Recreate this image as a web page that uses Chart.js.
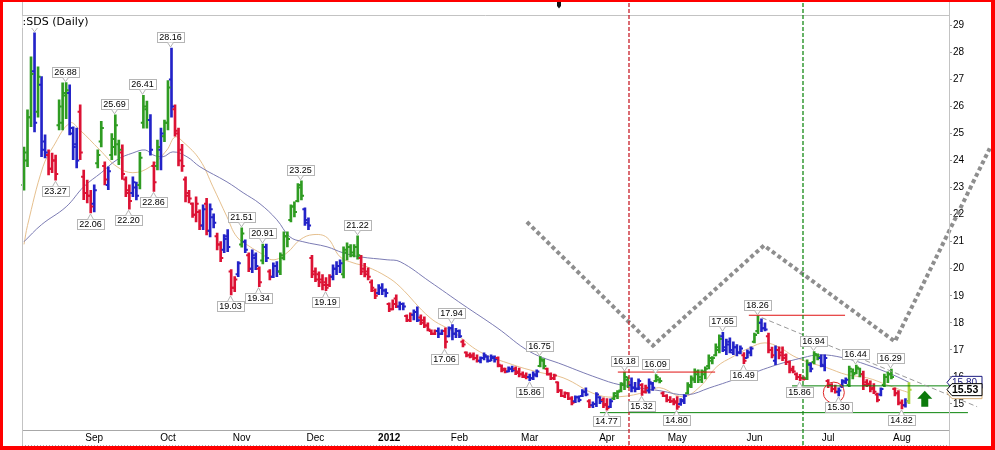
<!DOCTYPE html>
<html><head><meta charset="utf-8">
<script src="https://cdn.jsdelivr.net/npm/chart.js@4.4.1/dist/chart.umd.min.js"></script>
<style>html,body{margin:0;padding:0;background:#fff;}#wrap{position:relative;width:995px;height:450px;}canvas{display:block;}</style>
</head><body><div id="wrap"><canvas id="c" width="995" height="450" style="width:995px;height:450px"></canvas></div>
<script>
// ---- daily bars (index 0 = first trading day shown) ----
const high = [
24.50,25.87,27.83,28.72,27.46,27.10,24.95,24.40,24.28,24.20,
26.24,26.87,26.88,26.80,25.25,25.20,26.06,23.65,23.28,22.90,
23.10,24.40,25.45,23.95,23.77,25.00,25.69,24.76,24.58,23.40,
23.10,23.40,23.20,24.30,26.41,26.20,25.70,23.95,24.76,25.20,
25.50,26.96,28.16,26.06,25.20,24.60,23.40,22.90,22.44,22.66,
22.18,22.36,22.60,22.40,22.03,21.32,21.00,21.26,21.45,19.97,
19.71,20.26,21.51,21.07,20.59,20.70,20.59,20.07,20.91,20.91,
19.97,20.22,20.26,20.59,21.36,21.36,22.36,22.47,23.15,23.25,
22.25,21.88,20.50,20.03,19.89,19.78,19.67,19.78,20.14,20.26,
20.33,20.81,20.96,20.89,20.89,21.22,20.50,20.20,20.03,19.59,
19.26,19.41,19.45,19.26,18.74,18.85,19.04,18.78,18.74,18.30,
18.37,18.48,18.59,18.30,18.22,18.00,17.74,17.74,17.82,17.74,
17.82,17.85,17.94,17.80,17.74,17.37,16.93,16.89,16.89,16.82,
16.74,16.89,16.78,16.82,16.78,16.74,16.45,16.33,16.37,16.40,
16.37,16.33,16.19,16.15,16.11,16.19,16.26,16.75,16.67,16.33,
16.15,16.11,15.82,15.53,15.45,15.42,15.27,15.30,15.30,15.53,
15.60,15.16,15.08,15.42,15.27,15.23,15.20,15.19,15.42,15.50,
15.79,16.18,16.00,15.97,15.80,15.93,15.75,15.70,15.93,15.80,
16.09,15.97,15.45,15.35,15.27,15.20,15.27,15.20,15.35,15.79,
16.04,16.30,16.26,16.26,16.37,16.82,16.75,17.22,17.56,17.65,
17.40,17.45,17.30,17.20,17.15,16.90,17.00,17.11,17.62,18.26,
18.15,18.00,17.62,17.10,17.15,17.11,17.11,16.85,16.60,16.40,
16.15,16.10,16.00,16.63,16.53,16.94,16.85,16.82,16.82,15.90,
15.75,15.70,15.60,15.90,15.97,16.40,16.30,16.44,16.33,16.22,
15.90,15.86,15.75,15.40,15.60,16.11,16.19,16.29,15.60,15.50,
15.15,15.20,15.79];
const low = [
22.90,23.77,25.25,25.06,25.60,24.14,24.10,23.47,23.55,23.27,
25.13,25.13,25.55,24.95,24.03,23.73,24.03,22.55,22.43,22.06,
22.10,23.73,24.50,23.10,22.92,24.03,24.20,23.85,23.30,22.66,
22.20,22.66,22.54,22.95,25.20,25.20,24.20,22.86,23.65,23.65,
24.70,25.13,25.60,24.90,23.80,23.60,22.47,22.43,21.90,21.73,
21.44,21.44,21.25,21.18,21.51,20.70,20.26,20.59,20.63,19.03,
19.15,19.71,20.80,20.59,19.89,19.85,19.97,19.34,20.18,20.26,
19.59,19.67,19.71,19.78,20.33,20.81,21.73,21.92,22.47,22.54,
21.60,21.44,19.67,19.52,19.34,19.22,19.19,19.34,19.59,19.78,
19.85,19.66,20.33,20.44,20.44,20.35,19.78,19.70,19.59,19.15,
18.89,19.04,19.04,18.96,18.41,18.48,18.56,18.48,18.48,18.04,
18.04,18.11,18.04,17.93,17.82,17.70,17.56,17.56,17.45,17.56,
17.06,17.48,17.37,17.45,17.45,17.11,16.74,16.70,16.63,16.55,
16.52,16.63,16.55,16.59,16.55,16.37,16.19,16.15,16.19,16.19,
16.08,16.00,15.97,15.93,15.86,15.90,16.00,16.37,16.30,16.07,
15.90,15.90,15.42,15.27,15.23,15.16,14.97,15.05,15.08,15.27,
15.30,14.86,14.86,14.90,15.01,14.86,14.77,14.86,15.16,15.20,
15.45,15.53,15.60,15.45,15.45,15.53,15.32,15.40,15.40,15.50,
15.82,15.78,15.27,15.08,15.05,14.97,14.80,14.95,15.01,15.38,
15.60,15.79,15.79,15.79,15.93,16.30,16.48,16.78,16.89,16.93,
16.82,16.89,16.82,16.78,16.85,16.49,16.70,16.78,17.26,17.60,
17.67,17.70,16.89,16.70,16.45,16.67,16.60,16.45,16.15,16.15,
15.90,15.86,15.88,15.90,16.19,16.48,16.63,16.37,16.22,15.60,
15.45,15.40,15.30,15.60,15.75,15.64,15.93,16.11,16.00,15.53,
15.64,15.45,15.38,15.08,15.30,15.64,15.79,15.93,15.30,14.97,
14.82,14.88,15.01];
const open = [
23.10,24.00,25.60,27.30,25.80,26.80,24.70,24.20,23.70,24.00,
25.30,25.40,26.40,26.50,25.00,24.60,25.80,23.40,22.80,22.70,
22.40,23.90,24.70,23.80,23.10,24.20,24.50,24.60,24.30,23.30,
22.90,22.80,23.00,23.10,25.40,25.90,25.50,23.80,23.80,24.40,
24.90,25.40,27.00,25.90,25.00,24.40,23.30,22.80,22.40,22.00,
22.10,21.60,22.40,21.40,21.90,21.20,20.90,20.70,21.20,19.90,
19.30,19.80,20.90,21.00,20.50,20.00,20.40,20.00,20.30,20.80,
19.90,19.70,20.10,19.90,20.40,21.20,21.80,22.30,22.50,23.10,
22.20,21.70,20.40,19.90,19.80,19.60,19.50,19.40,19.70,20.00,
20.10,19.80,20.60,20.80,20.50,20.80,20.40,20.00,19.90,19.50,
19.20,19.10,19.30,19.20,18.70,18.50,18.90,18.60,18.70,18.25,
18.10,18.30,18.40,18.20,18.10,17.90,17.70,17.60,17.70,17.60,
17.70,17.50,17.80,17.60,17.70,17.30,16.90,16.80,16.80,16.70,
16.60,16.70,16.75,16.60,16.70,16.70,16.40,16.30,16.20,16.30,
16.30,16.20,16.10,16.05,16.00,15.95,16.05,16.40,16.60,16.30,
16.10,15.95,15.80,15.50,15.30,15.40,15.20,15.10,15.25,15.30,
15.45,15.10,14.95,15.00,15.25,15.15,15.00,14.90,15.20,15.30,
15.50,15.70,15.90,15.70,15.60,15.55,15.70,15.45,15.50,15.75,
15.85,15.90,15.40,15.30,15.15,15.10,15.10,15.00,15.10,15.40,
15.65,15.90,16.10,15.90,16.10,16.40,16.60,16.80,17.00,17.50,
17.00,17.30,16.90,17.10,16.90,16.80,16.70,16.90,17.30,17.70,
18.00,17.80,17.50,17.00,16.60,17.00,16.90,16.80,16.55,16.30,
16.10,16.00,15.95,15.95,16.45,16.55,16.80,16.70,16.40,15.85,
15.70,15.55,15.45,15.65,15.80,15.70,16.20,16.15,16.30,16.10,
15.80,15.75,15.60,15.35,15.35,15.70,16.00,16.10,15.55,15.40,
15.05,14.95,15.10];
const close = [
24.30,25.60,27.20,25.40,27.10,24.40,24.30,23.70,24.00,23.50,
26.00,26.50,26.60,25.20,24.50,24.00,24.30,22.80,22.70,22.30,
22.90,24.20,25.20,23.30,23.60,24.80,25.30,24.40,23.50,22.80,
22.50,23.20,22.70,24.10,26.00,25.50,24.40,23.20,24.50,25.00,
25.40,26.70,26.00,25.10,24.00,23.80,22.70,22.60,22.00,22.40,
21.60,22.20,21.40,22.20,21.70,20.90,20.40,21.10,20.80,19.30,
19.60,20.20,21.30,20.70,20.00,20.50,20.10,19.50,20.80,20.40,
19.70,20.10,19.90,20.50,21.20,21.10,22.30,22.10,23.00,22.70,
21.80,21.60,19.80,19.60,19.50,19.40,19.30,19.70,20.00,20.10,
20.20,20.70,20.80,20.60,20.80,20.50,19.90,19.80,19.70,19.30,
19.00,19.30,19.20,19.10,18.50,18.70,18.60,18.70,18.60,18.10,
18.30,18.40,18.10,18.00,17.90,17.75,17.60,17.70,17.60,17.70,
17.30,17.80,17.60,17.70,17.50,17.20,16.80,16.75,16.70,16.60,
16.70,16.80,16.60,16.75,16.65,16.45,16.25,16.20,16.30,16.25,
16.15,16.10,16.00,16.00,15.95,16.10,16.20,16.65,16.40,16.10,
15.95,16.05,15.50,15.30,15.40,15.20,15.05,15.25,15.15,15.45,
15.35,14.95,15.00,15.35,15.10,14.95,14.85,15.10,15.40,15.45,
15.75,16.00,15.70,15.60,15.55,15.85,15.45,15.60,15.80,15.60,
16.00,15.85,15.30,15.15,15.10,15.05,14.90,15.15,15.30,15.70,
15.95,16.20,16.00,16.20,16.30,16.70,16.70,17.10,17.40,17.10,
17.20,17.00,17.10,16.90,17.05,16.60,16.90,17.05,17.55,18.00,
17.80,17.75,17.00,16.80,17.00,16.80,16.70,16.55,16.25,16.20,
16.00,15.95,15.92,16.50,16.30,16.85,16.75,16.45,16.70,15.70,
15.55,15.45,15.50,15.85,15.90,16.30,16.10,16.35,16.10,15.70,
15.70,15.55,15.45,15.15,15.55,16.00,16.10,16.00,15.40,15.05,
14.95,15.10,15.53];
// bar colour codes: g = green, b = blue, r = red, y = latest bar
const barColor = ('gggbgbbrrr'+'gggbbbrrrr'+'bggrbgggrr'+'rbbgggbrgb'+'ggbrrrrrrr'+
  'rbrbbrrbbr'+'rbgbrbbrgb'+'rbbggggggg'+'bbrrrrrrbb'+'bgggggrrrr'+
  'rbbbrrrbbr'+'rbbrrrrrbb'+'rbbbbrrrrr'+'bbbbbrrrbb'+'rrrrbbbggr'+
  'rrrrrrrbbb'+'brbbbrrbgg'+'gggbbbrrbb'+'ggrrrrrbbg'+'gggggggggb'+
  'bbbbbrbbgg'+'bbrrbrrrrr'+'rrrgbggbbr'+'rrbbbggggr'+'rrrrbgggrr'+'rby').split('');

// ---- axis ticks ----
const monthLabels = ['Sep','Oct','Nov','Dec','2012','Feb','Mar','Apr','May','Jun','Jul','Aug'];
const monthIdx = [20,41,62,83,104,124,144,166,186,208,229,250];
const yTicks = [15,16,17,18,19,20,21,22,23,24,25,26,27,28,29];

// ---- moving averages ----
const slowIdx = [0,5,12,17,22,26.5,31,34.5,36.7,39.6,42.4,46.4,50.1,57.8,62.4,67.2,72,75.7,79.4,86.3,90.8,95.7,103.4,107.1,115.6,125,134.7,144.1,153.5,163.2,169.7,181.1,188.8,195.3,204.7,214.4,221.8,226.7,233.2,240,247.4,252];
const slowVal = [21.00,21.63,22.29,23.03,23.55,24.03,24.28,24.39,24.21,24.14,24.32,24.14,23.77,23.21,22.81,22.40,21.81,21.18,21.00,20.81,20.59,20.44,20.33,20.26,19.52,18.67,17.82,16.93,16.45,15.97,15.71,15.49,15.34,15.60,16.01,16.45,16.71,16.82,16.71,16.45,16.08,15.80];
const fastIdx = [0,1,5.4,8.3,13.1,15.9,21.6,26.5,31,35.9,40.7,43,45.3,50.1,53.8,57.8,60.6,64.4,67.2,70.9,74.9,78.6,82.3,86.3,90,93.7,97.7,103.4,107.1,115.6,122.2,129.8,139.2,146.1,153.5,163.2,169.7,177.4,181.1,187.6,192.5,197.3,201.9,206.7,211,215.3,219,223,228.6,234.3,240,245.7,249.4,252];
const fastVal = [20.90,21.60,23.77,24.51,25.39,25.13,24.39,23.77,23.55,23.77,24.39,24.87,24.69,24.02,23.03,21.92,21.18,20.81,20.59,20.33,20.59,21.07,21.26,21.15,20.44,20.22,20.07,19.70,19.33,18.19,17.67,16.93,16.45,16.19,15.97,15.34,15.27,15.45,15.60,15.27,15.64,16.38,16.75,17.08,17.26,17.08,16.78,16.56,16.34,16.08,15.97,15.71,15.53,15.42];

// ---- annotations ----
const peakIdx = [12,26,34,42,62,68,79,95,122,147,171,180,199,209,225,237,247];
const peakVal = [26.88,25.69,26.41,28.16,21.51,20.91,23.25,21.22,17.94,16.75,16.18,16.09,17.65,18.26,16.94,16.44,16.29];
const troughIdx = [9,19,30,37,59,67,86,120,144,166,176,186,205,221,232,250];
const troughVal = [23.27,22.06,22.20,22.86,19.03,19.34,19.19,17.06,15.86,14.77,15.32,14.80,16.49,15.86,15.30,14.82];
const zigIdx = [143.2,179.1,210.7,248.0,275.0];
const zigVal = [21.73,17.16,20.86,17.31,24.45];
const redFrom = [169.1,206.4], redTo = [196.8,233.8], redVal = [16.18,18.28];
const greenFrom = [164.0,218.7], greenTo = [268.8,268.8], greenVal = [14.68,15.67];
const trendIdx = [210.1,271.4], trendVal = [18.19,14.90];
const markerIdx = [172.3,221.8], markerColor = ['#c81e28','#168a16'];
const circleAt = [230.6,15.42];
const arrowAt = [256.5,15.49,14.90];
const topMarkIdx = 152.3;
const titleText = ':SDS (Daily)';

const palette = {g:'#2f9c22', b:'#2323c8', r:'#dc1234', y:'#a9d23a'};
const FONT = '"Liberation Sans", Arial, sans-serif';

function seg(a,b,v){return [{x:a,y:v},{x:b,y:v}];}
const lineBase = {type:'line', pointRadius:0, borderWidth:1, clip:false, tension:0, fill:false};
const datasets = [
  {type:'bar', data: high.map((h,i)=>({x:i,y:[low[i],h]})), backgroundColor: barColor.map(c=>palette[c]),
   barThickness:2, grouped:false, borderWidth:0, order:1},
  {...lineBase, data: slowIdx.map((v,k)=>({x:v,y:slowVal[k]})), borderColor:'#7c7cb4', tension:0.4, clip:0, order:3},
  {...lineBase, data: fastIdx.map((v,k)=>({x:v,y:fastVal[k]})), borderColor:'#e6c08e', tension:0.4, clip:0, order:3},
  {...lineBase, data: zigIdx.map((v,k)=>({x:v,y:zigVal[k]})), borderColor:'#8e8e8e', borderWidth:4, borderDash:[4,3], order:0},
  {...lineBase, data: trendIdx.map((v,k)=>({x:v,y:trendVal[k]})), borderColor:'#9a9a9a', borderDash:[5,3], order:0},
];
redFrom.forEach((a,k)=>datasets.push({...lineBase, data: seg(a,redTo[k],redVal[k]), borderColor:'#e01010', order:0}));
greenFrom.forEach((a,k)=>datasets.push({...lineBase, data: seg(a,greenTo[k],greenVal[k]), borderColor:'#0a840a', order:0}));

function drawLabel(g, px, py, text, up){
  g.font = '9px ' + FONT;
  const w = Math.round(g.measureText(text).width) + 4, h = 10, gap = 6;
  const bx = Math.round(px - w/2) + 0.5;
  const by = up ? Math.round(py - gap - h) + 0.5 : Math.round(py + gap) + 0.5;
  g.lineWidth = 1; g.strokeStyle = '#b5b5b5'; g.fillStyle = '#fff';
  g.fillRect(bx, by, w, h); g.strokeRect(bx, by, w, h);
  const edge = up ? by + h : by, tip = up ? py - 1 : py + 1;
  g.beginPath(); g.moveTo(px-3, edge); g.lineTo(px, tip); g.lineTo(px+3, edge); g.closePath();
  g.fill();
  g.beginPath(); g.moveTo(px-3, edge); g.lineTo(px, tip); g.lineTo(px+3, edge); g.stroke();
  g.fillStyle = '#000'; g.textAlign = 'center'; g.textBaseline = 'middle';
  g.fillText(text, px, by + h/2 + 0.5);
}
function drawTag(g, x0, cy, text, color, bold){
  g.beginPath();
  g.moveTo(x0, cy); g.lineTo(x0+5, cy-6); g.lineTo(x0+35, cy-6); g.lineTo(x0+35, cy+6); g.lineTo(x0+5, cy+6); g.closePath();
  g.fillStyle = '#fff'; g.fill(); g.lineWidth = 1; g.strokeStyle = color; g.stroke();
  g.font = (bold ? 'bold 10.5px ' : '10px ') + FONT; g.fillStyle = color; g.textAlign = 'left'; g.textBaseline = 'middle';
  g.fillText(text, x0+5, cy+0.5);
}

const deco = {
  id:'deco',
  beforeDraw(c){ const g=c.ctx; g.save(); g.fillStyle='#fff'; g.fillRect(0,0,c.width,c.height); g.restore(); },
  afterDatasetDraw(c, args){
    if (args.index !== 0) return;
    const g=c.ctx, X=c.scales.x, Y=c.scales.y;
    g.save(); g.lineWidth = 2;
    for (let i=0;i<high.length;i++){
      const px = X.getPixelForValue(i), yo = Y.getPixelForValue(open[i]), yc = Y.getPixelForValue(close[i]);
      g.strokeStyle = palette[barColor[i]];
      g.beginPath(); g.moveTo(px-2.6, yo); g.lineTo(px, yo); g.moveTo(px, yc); g.lineTo(px+2.6, yc); g.stroke();
    }
    g.restore();
  },
  afterDraw(c){
    const g=c.ctx, X=c.scales.x, Y=c.scales.y, a=c.chartArea;
    g.save();
    // frame lines
    g.strokeStyle='#c3c3c3'; g.lineWidth=1;
    g.beginPath();
    g.moveTo(Math.round(a.left)+0.5, 0); g.lineTo(Math.round(a.left)+0.5, 447);
    g.moveTo(Math.round(a.right)+0.5, 0); g.lineTo(Math.round(a.right)+0.5, 447);
    g.moveTo(a.left, Math.round(a.top)+0.5); g.lineTo(a.right, Math.round(a.top)+0.5);
    g.stroke();
    g.setLineDash([1,2]); g.strokeStyle='#aaaaaa';
    g.beginPath(); g.moveTo(a.left, 445.5); g.lineTo(a.right, 445.5); g.stroke();
    g.setLineDash([]);
    // vertical dashed markers
    markerIdx.forEach((m,k)=>{
      const px = Math.round(X.getPixelForValue(m));
      g.strokeStyle = markerColor[k]; g.setLineDash([4,2]); g.lineWidth = 1.3;
      g.beginPath(); g.moveTo(px, 3); g.lineTo(px, 447); g.stroke();
    });
    g.setLineDash([]);
    // circle
    g.strokeStyle = '#e02828'; g.lineWidth = 1;
    g.beginPath(); g.arc(X.getPixelForValue(circleAt[0]), Y.getPixelForValue(circleAt[1]), 10.5, 0, Math.PI*2); g.stroke();
    // arrow
    const ax = X.getPixelForValue(arrowAt[0]), at = Y.getPixelForValue(arrowAt[1]), ab = Y.getPixelForValue(arrowAt[2]);
    g.fillStyle = '#0b7a0b';
    g.beginPath(); g.moveTo(ax, at); g.lineTo(ax+7.5, at+8); g.lineTo(ax+3.5, at+8); g.lineTo(ax+3.5, ab);
    g.lineTo(ax-3.5, ab); g.lineTo(ax-3.5, at+8); g.lineTo(ax-7.5, at+8); g.closePath(); g.fill();
    // price labels
    peakIdx.forEach((ix,k)=>drawLabel(g, Math.round(X.getPixelForValue(ix))-0.5, Y.getPixelForValue(peakVal[k]), peakVal[k].toFixed(2), true));
    troughIdx.forEach((ix,k)=>drawLabel(g, Math.round(X.getPixelForValue(ix))-0.5, Y.getPixelForValue(troughVal[k]), troughVal[k].toFixed(2), false));
    // title with pointer to first peak
    const p3 = X.getPixelForValue(3), h3 = Y.getPixelForValue(high[3]);
    g.strokeStyle='#b5b5b5'; g.beginPath(); g.moveTo(p3-3, h3-5); g.lineTo(p3, h3-1); g.lineTo(p3+3, h3-5); g.stroke();
    g.font = '11px "DejaVu Sans", Verdana, sans-serif';
    const tw = g.measureText(titleText).width;
    g.fillStyle = '#fff'; g.fillRect(a.left+0.5, 16, tw+2, 12);
    g.fillStyle = '#000'; g.textAlign='left'; g.textBaseline='middle';
    g.fillText(titleText, a.left+0.5, 22.5);
    // last value tags
    const tx = a.right - 2;
    drawTag(g, tx, Y.getPixelForValue(fastVal[fastVal.length-1]), fastVal[fastVal.length-1].toFixed(2), '#d8b07a', false);
    drawTag(g, tx, Y.getPixelForValue(slowVal[slowVal.length-1]), slowVal[slowVal.length-1].toFixed(2), '#1a1a80', false);
    drawTag(g, tx, Y.getPixelForValue(close[close.length-1]), close[close.length-1].toFixed(2), '#000', true);
    // top marker
    const mx = Math.round(X.getPixelForValue(topMarkIdx));
    g.fillStyle = '#111';
    g.beginPath(); g.moveTo(mx-2, 2); g.lineTo(mx+2, 2); g.lineTo(mx+2, 6); g.lineTo(mx, 8.5); g.lineTo(mx-2, 6); g.closePath(); g.fill();
    // red frame
    g.fillStyle = '#ff0000';
    g.fillRect(0,0,995,2); g.fillRect(0,0,3,450); g.fillRect(991,0,4,450); g.fillRect(0,446,995,4);
    g.restore();
  }
};

new Chart(document.getElementById('c'), {
  type:'bar',
  data:{datasets},
  options:{
    responsive:false, maintainAspectRatio:false, devicePixelRatio:1, animation:false, events:[],
    layout:{padding:{left:22, top:15, right:0, bottom:0}},
    plugins:{legend:{display:false}, tooltip:{enabled:false}},
    scales:{
      x:{type:'linear', min:-0.57, max:263.4, offset:false,
        afterBuildTicks:s=>{ s.ticks = monthIdx.map(v=>({value:v})); },
        afterFit:s=>{ s.height = 19.5; },
        ticks:{autoSkip:false, maxRotation:0, minRotation:0, color:'#000', padding:2,
          font:ctx=>({family:FONT, size:10, weight: monthLabels[ctx.index]==='2012' ? 'bold' : 'normal'}),
          callback:(v,i)=>monthLabels[i]},
        grid:{display:true, drawOnChartArea:false, drawTicks:false, offset:false},
        border:{display:true, color:'#a8a8a8', dash:[1,2]}
      },
      y:{position:'right', min:14.02, max:29.38,
        afterBuildTicks:s=>{ s.ticks = yTicks.map(v=>({value:v})); },
        afterFit:s=>{ s.width = 46; },
        ticks:{color:'#000', padding:1, font:{family:FONT, size:10}, callback:v=>String(v)},
        grid:{drawOnChartArea:false, drawTicks:true, tickLength:3, color:'#999'},
        border:{display:true, color:'#bdbdbd'}
      }
    }
  },
  plugins:[deco]
});
</script></body></html>
